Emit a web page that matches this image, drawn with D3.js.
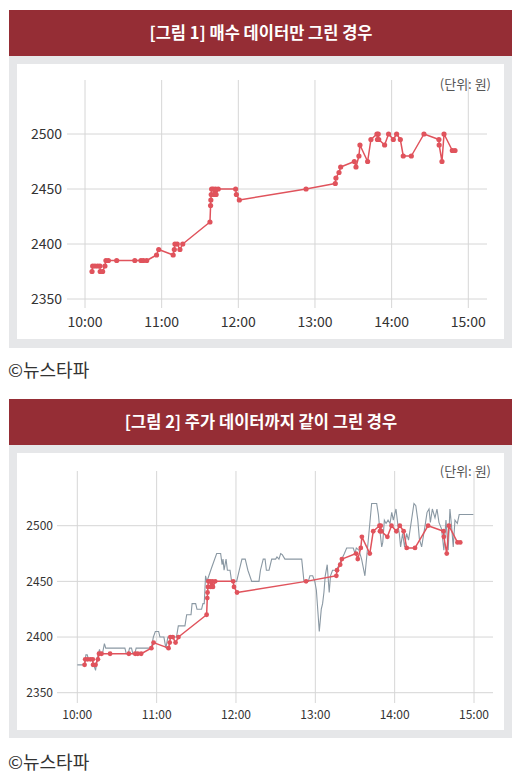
<!DOCTYPE html>
<html>
<head>
<meta charset="utf-8">
<script src="https://cdn.jsdelivr.net/npm/d3@7/dist/d3.min.js"></script>
<style>
  html, body { margin: 0; padding: 0; background: #fff; }
  svg { display: block; font-family: "Noto Sans CJK KR", "Noto Sans", sans-serif; }
</style>
</head>
<body>
<div id="chart"></div>
<script>
// buy orders (red dots)
const buyTimes = [
  "10:05:30","10:06:00","10:07:48","10:09:54","10:11:42","10:11:54","10:13:48","10:15:36",
  "10:16:24","10:18:18","10:24:48","10:39:00","10:43:48","10:45:42","10:48:18","10:56:00",
  "10:57:42","11:09:00","11:09:54","11:10:24","11:12:12","11:14:18","11:16:30","11:37:48",
  "11:38:18","11:38:30","11:38:48","11:39:06","11:40:24","11:41:00","11:42:12","11:42:36",
  "11:44:18","11:57:54","11:58:30","12:00:48","12:53:00","13:15:54","13:16:24","13:18:48",
  "13:20:06","13:30:48","13:32:06","13:34:24","13:35:12","13:41:12","13:43:48","13:48:30",
  "13:48:54","13:49:30","13:49:54","13:54:30","13:57:36","14:01:18","14:03:54","14:06:48",
  "14:09:06","14:15:24","14:25:18","14:37:00","14:37:12","14:39:24","14:41:00","14:47:30",
  "14:49:36"
];
const buyPrices = [
  2375,2380,2380,2380,2380,2375,2375,2380,
  2385,2385,2385,2385,2385,2385,2385,2390,
  2395,2390,2395,2400,2400,2395,2400,2420,
  2435,2440,2445,2450,2450,2445,2450,2445,
  2450,2450,2445,2440,2450,2455,2460,2465,
  2470,2475,2470,2480,2490,2475,2495,2500,
  2495,2500,2495,2490,2500,2495,2500,2495,
  2480,2480,2500,2495,2490,2475,2500,2485,
  2485
];

// traded stock price (gray line)
const priceTimes = [
  "10:00:00","10:05:30","10:06:30","10:07:30","10:08:30","10:11:00","10:12:30","10:13:48",
  "10:15:00","10:16:00","10:16:48","10:17:30","10:19:00","10:20:30","10:21:30","10:36:00",
  "10:37:00","10:38:30","10:39:30","10:41:00","10:42:00","10:43:30","10:44:30","10:56:00",
  "10:57:30","10:59:00","11:01:30","11:02:30","11:05:30","11:07:00","11:08:30","11:15:00",
  "11:16:24","11:21:24","11:22:42","11:26:00","11:26:48","11:29:30","11:30:30","11:34:00",
  "11:35:00","11:36:00","11:37:00","11:38:00","11:39:30","11:41:30","11:45:24","11:48:24",
  "11:49:30","11:50:12","11:51:00","11:52:30","11:53:30","11:55:30","11:56:42","12:00:30",
  "12:02:30","12:04:30","12:07:00","12:09:00","12:11:54","12:17:24","12:18:30","12:20:36",
  "12:22:00","12:23:00","12:25:00","12:27:00","12:30:00","12:31:00","12:32:30","12:33:48",
  "12:35:00","12:37:00","12:49:42","12:51:24","12:54:42","12:55:54","12:58:00","12:59:36",
  "13:00:48","13:03:00","13:04:30","13:05:30","13:06:30","13:07:30","13:09:00","13:10:30",
  "13:11:30","13:13:00","13:16:00","13:18:00","13:20:00","13:22:00","13:23:42","13:28:42",
  "13:30:00","13:31:00","13:33:00","13:35:00","13:37:30","13:39:30","13:42:36","13:46:24",
  "13:47:42","13:48:42","13:50:12","13:51:00","13:52:12","13:53:30","13:55:00","13:56:30",
  "13:57:48","13:59:00","14:01:00","14:02:30","14:03:30","14:04:30","14:06:00","14:07:30",
  "14:09:00","14:10:30","14:14:36","14:16:00","14:17:30","14:18:42","14:20:24","14:23:00",
  "14:24:30","14:26:00","14:27:00","14:28:30","14:30:30","14:32:00","14:33:30","14:35:30",
  "14:37:12","14:38:48","14:40:30","14:41:48","14:43:00","14:44:18","14:45:36","14:47:24",
  "14:48:48","14:51:00","14:59:30"
];
const pricePrices = [
  2375,2375,2384,2384,2380,2380,2375,2370,
  2380,2385,2389,2385,2385,2394,2390,2390,
  2385,2385,2390,2390,2385,2385,2390,2390,
  2400,2405,2405,2400,2400,2390,2400,2400,
  2410,2410,2420,2420,2430,2430,2425,2425,
  2430,2430,2455,2450,2455,2462,2475,2475,
  2465,2470,2460,2470,2460,2460,2450,2450,
  2460,2470,2470,2460,2450,2450,2460,2470,
  2470,2460,2460,2470,2470,2472,2470,2475,
  2474,2470,2470,2450,2450,2455,2455,2450,
  2442,2405,2425,2430,2440,2455,2465,2440,
  2455,2460,2460,2465,2470,2475,2480,2480,
  2475,2480,2478,2470,2455,2480,2520,2520,
  2510,2497,2481,2485,2505,2502,2505,2502,
  2512,2505,2515,2500,2493,2481,2493,2481,
  2493,2487,2520,2518,2505,2488,2481,2500,
  2512,2515,2503,2515,2507,2515,2503,2497,
  2478,2505,2478,2515,2500,2481,2505,2502,
  2510,2510,2510
];

const yTicks = [2350, 2400, 2450, 2500];
const xTickLabels = ["10:00", "11:00", "12:00", "13:00", "14:00", "15:00"];

const titles = ["[그림 1] 매수 데이터만 그린 경우", "[그림 2] 주가 데이터까지 같이 그린 경우"];
const unitLabel = "(단위: 원)";
const credit = "©뉴스타파";

const W = 517, H = 776;
const parseTime = d3.timeParse("%H:%M:%S");
const parseHM = d3.timeParse("%H:%M");

const buys = buyTimes.map((t, i) => ({ t: parseTime(t), v: buyPrices[i] }));
const prices = priceTimes.map((t, i) => ({ t: parseTime(t), v: pricePrices[i] }));

const svg = d3.select('#chart').append('svg')
  .attr('width', W).attr('height', H);

// layout of the two panels
const panels = [
  { top: 10, headH: 46, frameB: 348, inner: [17, 64, 504, 339],
    x10: 85, x15: 468.3, gx: [67, 487], y2500: 134, y2350: 299, gy: [80, 308],
    yLabX: 62, yFont: 14, xLabY: 327, xFont: 14, unitY: 89, creditY: 377,
    showPrice: false, r: 2.6 },
  { top: 399, headH: 46, frameB: 738, inner: [17, 453, 504, 730],
    x10: 77.3, x15: 474, gx: [57, 493], y2500: 525.7, y2350: 692.7, gy: [471, 703],
    yLabX: 53, yFont: 12, xLabY: 719, xFont: 12, unitY: 476, creditY: 769,
    showPrice: true, r: 2.4 }
];

panels.forEach((p, idx) => {
  const g = svg.append('g');

  // header bar
  g.append('rect')
    .attr('x', 9).attr('y', p.top).attr('width', 503).attr('height', p.headH)
    .attr('fill', '#952d35');
  g.append('text')
    .attr('x', 261).attr('y', p.top + p.headH / 2 + 6)
    .attr('text-anchor', 'middle')
    .attr('fill', '#fff').attr('font-size', 16.5).attr('font-weight', 700)
    .text(titles[idx]);

  // gray frame + white panel
  g.append('rect')
    .attr('x', 9).attr('y', p.top + p.headH).attr('width', 503)
    .attr('height', p.frameB - p.top - p.headH)
    .attr('fill', '#e6e7e9');
  g.append('rect')
    .attr('x', p.inner[0]).attr('y', p.inner[1])
    .attr('width', p.inner[2] - p.inner[0]).attr('height', p.inner[3] - p.inner[1])
    .attr('fill', '#fff');

  const x = d3.scaleTime()
    .domain([parseHM("10:00"), parseHM("15:00")])
    .range([p.x10, p.x15]);
  const y = d3.scaleLinear()
    .domain([2350, 2500])
    .range([p.y2350, p.y2500]);

  // horizontal grid + y labels
  const yAxis = g.append('g');
  yAxis.selectAll('line').data(yTicks).enter().append('line')
    .attr('x1', p.gx[0]).attr('x2', p.gx[1])
    .attr('y1', d => y(d)).attr('y2', d => y(d))
    .attr('stroke', '#d6d6d6').attr('stroke-width', 1);
  yAxis.selectAll('text').data(yTicks).enter().append('text')
    .attr('x', p.yLabX).attr('y', d => y(d))
    .attr('dy', '0.35em').attr('text-anchor', 'end')
    .attr('font-size', p.yFont).attr('fill', '#333')
    .text(d => d);

  // vertical grid + x labels
  const xAxis = g.append('g');
  const xt = xTickLabels.map(s => parseHM(s));
  xAxis.selectAll('line').data(xt).enter().append('line')
    .attr('x1', d => x(d)).attr('x2', d => x(d))
    .attr('y1', p.gy[0]).attr('y2', p.gy[1])
    .attr('stroke', '#d6d6d6').attr('stroke-width', 1);
  xAxis.selectAll('text').data(xt).enter().append('text')
    .attr('x', d => x(d)).attr('y', p.xLabY)
    .attr('text-anchor', 'middle')
    .attr('font-size', p.xFont).attr('fill', '#333')
    .text((d, i) => xTickLabels[i]);

  g.append('text')
    .attr('x', 491).attr('y', p.unitY)
    .attr('text-anchor', 'end')
    .attr('font-size', 13).attr('fill', '#555')
    .text(unitLabel);

  const line = d3.line().x(d => x(d.t)).y(d => y(d.v));

  if (p.showPrice) {
    g.append('path').datum(prices)
      .attr('d', line)
      .attr('fill', 'none')
      .attr('stroke', '#8a98a3')
      .attr('stroke-width', 1.1);
  }

  g.append('path').datum(buys)
    .attr('d', line)
    .attr('fill', 'none')
    .attr('stroke', '#e0535c')
    .attr('stroke-width', 1.5)
    .attr('stroke-linejoin', 'round');

  g.selectAll('circle.buy').data(buys).enter().append('circle')
    .attr('class', 'buy')
    .attr('cx', d => x(d.t)).attr('cy', d => y(d.v))
    .attr('r', p.r)
    .attr('fill', '#e0535c');

  g.append('text')
    .attr('x', 8).attr('y', p.creditY)
    .attr('font-size', 18).attr('fill', '#333')
    .text(credit);
});
</script>
</body>
</html>
